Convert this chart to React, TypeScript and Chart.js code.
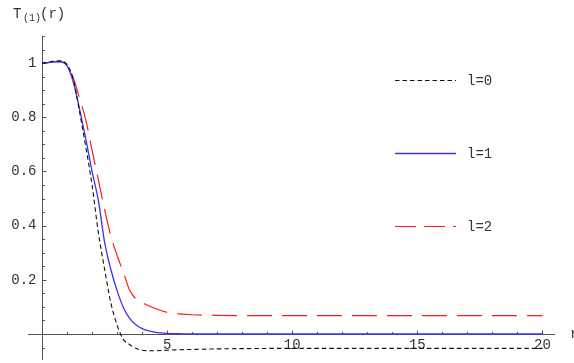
import React, { useEffect, useRef } from "react";
import { Chart, registerables } from "chart.js";
Chart.register(...registerables);

const rValues = [0, 0.25, 0.5, 0.75, 1, 1.25, 1.5, 1.75, 2, 2.25, 2.5, 2.75, 3, 3.25, 3.5, 3.75, 4, 4.5, 5, 5.5, 6, 7, 8, 10, 12, 14, 16, 18, 20];
const l0Values = [1.0, 1.003, 1.008, 1.008, 0.995, 0.94, 0.82, 0.69, 0.55, 0.375, 0.24, 0.115, 0.033, -0.02, -0.039, -0.053, -0.06, -0.062, -0.06, -0.058, -0.057, -0.055, -0.054, -0.053, -0.053, -0.053, -0.053, -0.053, -0.053];
const l1Values = [1.0, 1.002, 1.005, 1.005, 0.99, 0.93, 0.83, 0.72, 0.6, 0.494, 0.34, 0.238, 0.16, 0.098, 0.058, 0.034, 0.02, 0.007, 0.002, 0.001, 0, 0, 0, 0, 0, 0, 0, 0, 0];
const l2Values = [1.0, 1.002, 1.005, 1.005, 0.99, 0.945, 0.87, 0.79, 0.678, 0.57, 0.46, 0.362, 0.29, 0.228, 0.162, 0.13, 0.116, 0.095, 0.08, 0.074, 0.071, 0.069, 0.068, 0.0675, 0.0675, 0.0675, 0.0675, 0.0675, 0.0675];

const seriesNames = ["l=0", "l=1", "l=2"];
const xTickValues = [5, 10, 15, 20];
const xTickLabels = ["5", "10", "15", "20"];
const yTickValues = [0.2, 0.4, 0.6, 0.8, 1];
const yTickLabels = ["0.2", "0.4", "0.6", "0.8", "1"];

const COLORS = ["#111111", "#3a32ee", "#ff1a1a"];
const WIDTHS = [1.1, 1.3, 1.2];
const DASHES = [[4.5, 3], [], [25, 10]];
const LEGEND_DASHES = [[4.5, 3], [], [21, 8]];
const FONT = "'Liberation Mono', 'DejaVu Sans Mono', monospace";

const axesPlugin = {
  id: "mmaAxes",
  beforeDatasetsDraw(chart: any) {
    const { ctx, chartArea, scales } = chart;
    const xs = scales.x, ys = scales.y;
    const x0 = Math.round(xs.getPixelForValue(0)) + 0.5;
    const y0 = Math.round(ys.getPixelForValue(0)) + 0.5;
    ctx.save();
    ctx.strokeStyle = "#555";
    ctx.lineWidth = 1;
    ctx.beginPath();
    ctx.moveTo(chartArea.left, y0);
    ctx.lineTo(chartArea.right, y0);
    ctx.moveTo(x0, chartArea.top);
    ctx.lineTo(x0, chartArea.bottom);
    for (let i = 1; i <= 20; i++) {
      const px = Math.round(xs.getPixelForValue(i)) + 0.5;
      const len = i % 5 === 0 ? 4 : 2.5;
      ctx.moveTo(px, y0);
      ctx.lineTo(px, y0 - len);
    }
    for (let k = -1; k <= 22; k++) {
      if (k === 0) continue;
      const v = k * 0.05;
      const py = Math.round(ys.getPixelForValue(v)) + 0.5;
      const len = k % 4 === 0 ? 4 : 2.5;
      ctx.moveTo(x0, py);
      ctx.lineTo(x0 + len, py);
    }
    ctx.stroke();

    ctx.fillStyle = "#333";
    ctx.font = `14px ${FONT}`;
    ctx.textAlign = "center";
    ctx.textBaseline = "middle";
    xTickValues.forEach((v, i) => {
      ctx.fillText(xTickLabels[i], xs.getPixelForValue(v), y0 + 11);
    });
    ctx.textAlign = "right";
    yTickValues.forEach((v, i) => {
      ctx.fillText(yTickLabels[i], x0 - 6, ys.getPixelForValue(v));
    });
    ctx.textAlign = "left";
    ctx.textBaseline = "alphabetic";
    ctx.font = `14px ${FONT}`;
    ctx.fillText("T", 13, 18);
    ctx.font = `10px ${FONT}`;
    ctx.fillText("(1)", 23, 21);
    ctx.font = `14px ${FONT}`;
    ctx.fillText("(r)", 40, 18);
    ctx.textBaseline = "middle";
    ctx.fillText("r", 570, y0);
    ctx.restore();
  },
  afterDraw(chart: any) {
    const { ctx } = chart;
    const rows = [80, 153, 226];
    ctx.save();
    seriesNames.forEach((name, i) => {
      ctx.strokeStyle = COLORS[i];
      ctx.lineWidth = WIDTHS[i];
      ctx.setLineDash(LEGEND_DASHES[i]);
      ctx.beginPath();
      ctx.moveTo(395, rows[i] + 0.5);
      ctx.lineTo(456, rows[i] + 0.5);
      ctx.stroke();
      ctx.setLineDash([]);
      ctx.fillStyle = "#333";
      ctx.font = `14px ${FONT}`;
      ctx.textAlign = "left";
      ctx.textBaseline = "middle";
      ctx.fillText(name, 467, rows[i] + 1);
    });
    ctx.restore();
  },
};

export default function App() {
  const ref = useRef<HTMLCanvasElement | null>(null);
  useEffect(() => {
    if (!ref.current) return;
    const series = [l0Values, l1Values, l2Values];
    const chart = new Chart(ref.current, {
      type: "line",
      data: {
        datasets: series.map((vals, i) => ({
          label: seriesNames[i],
          data: rValues.map((r, j) => ({ x: r, y: vals[j] })),
          borderColor: COLORS[i],
          borderWidth: WIDTHS[i],
          borderDash: DASHES[i],
          pointRadius: 0,
          fill: false,
          cubicInterpolationMode: "monotone" as const,
        })),
      },
      options: {
        animation: false,
        responsive: false,
        events: [],
        layout: { padding: { left: 28, right: 19, top: 36, bottom: 3 } },
        plugins: { legend: { display: false }, tooltip: { enabled: false } },
        scales: {
          x: { type: "linear", min: -0.56, max: 20.5, display: false },
          y: { type: "linear", min: -0.096, max: 1.1, display: false },
        },
      },
      plugins: [axesPlugin],
    });
    return () => chart.destroy();
  }, []);
  return (
    <div style={{ position: "fixed", left: 0, top: 0, width: 574, height: 363, background: "#fff" }}>
      <canvas ref={ref} width={574} height={363} style={{ display: "block" }} />
    </div>
  );
}
